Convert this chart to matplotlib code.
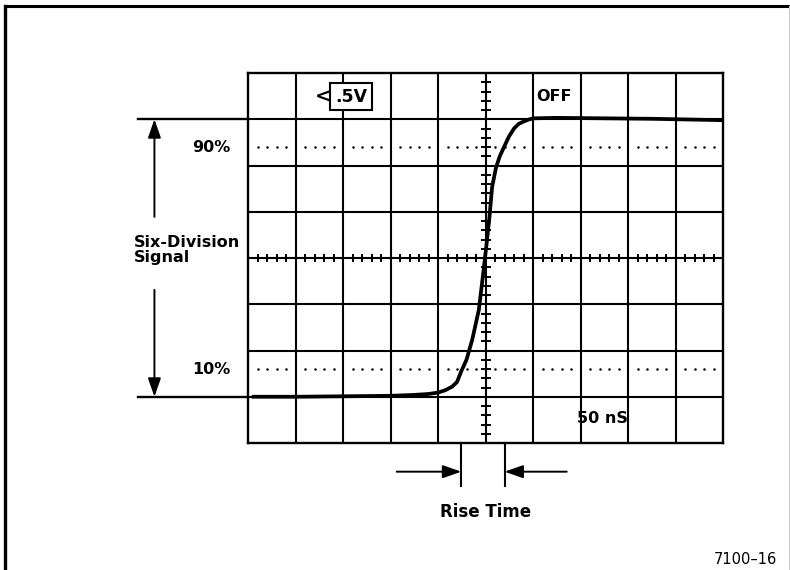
import numpy as np
import matplotlib
matplotlib.use("Agg")
import matplotlib.pyplot as plt
from matplotlib.lines import Line2D

plt.rcParams["font.family"] = ["DejaVu Sans"]

# graticule: 10 x 8 divisions, centred on 0
x_divs = np.arange(-5, 6)
y_divs = np.arange(-4, 5)
pct_levels = [2.4, -2.4]          # 90% / 10% of the six-division signal
signal_top, signal_bottom = 3, -3

# step response trace (divisions)
trace_x = [-4.92, -4.0, -3.0, -2.0, -1.5, -1.2, -1.0, -0.85, -0.7, -0.6, -0.51,
           -0.4, -0.28, -0.14, -0.04, 0.02, 0.08, 0.14, 0.22, 0.3, 0.4, 0.49,
           0.6, 0.7, 0.8, 0.9, 1.0, 1.5, 2.5, 3.5, 4.5, 5.0]
trace_y = [-3.0, -3.0, -2.99, -2.98, -2.96, -2.94, -2.91, -2.86, -2.78, -2.68, -2.45,
           -2.2, -1.77, -1.12, -0.26, 0.28, 0.85, 1.54, 1.95, 2.2, 2.42, 2.62,
           2.8, 2.9, 2.95, 2.99, 3.02, 3.03, 3.02, 3.01, 2.99, 2.98]

rise_start, rise_end = -0.51, 0.40

fig = plt.figure(figsize=(7.9, 5.7), dpi=100)
ax = fig.add_axes([248 / 790, 127 / 570, 475 / 790, 370 / 570])
ax.set_xlim(-5, 5)
ax.set_ylim(-4, 4)
ax.set_xticks([])
ax.set_yticks([])
for s in ax.spines.values():
    s.set_linewidth(1.7)

for xv in x_divs[1:-1]:
    ax.axvline(xv, color="k", lw=1.5)
for yv in y_divs[1:-1]:
    ax.axhline(yv, color="k", lw=1.5)

# minor ticks on the centre lines
minor = np.round(np.arange(-5, 5.001, 0.2), 2)
minor = minor[np.abs(minor - np.round(minor)) > 1e-6]
ax.plot(minor, np.zeros_like(minor), ls="none", marker="|", ms=6, mew=1.4, color="k")
minor_y = np.round(np.arange(-4, 4.001, 0.2), 2)
minor_y = minor_y[np.abs(minor_y - np.round(minor_y)) > 1e-6]
ax.plot(np.zeros_like(minor_y), minor_y, ls="none", marker="_", ms=7, mew=1.4, color="k")

# dotted 10% / 90% lines
for lv in pct_levels:
    ax.plot(minor, np.full_like(minor, lv), ls="none", marker=".", ms=1.6, color="k")

ax.plot(trace_x, trace_y, color="k", lw=2.7, solid_capstyle="butt")

bold = dict(fontsize=11.5, fontweight="bold", color="k")

ax.text(-2.83, 3.49, ".5V", ha="center", va="center", fontsize=12.5, fontweight="bold",
        bbox=dict(boxstyle="square,pad=0.28", fc="white", ec="k", lw=1.5), zorder=5)
ax.text(-3.24, 3.47, "<", ha="right", va="center", fontsize=14, fontweight="bold", zorder=5)
ax.text(1.07, 3.5, "OFF", ha="left", va="center", **bold)
ax.text(1.92, -3.48, "50 nS", ha="left", va="center", **bold)

# six-division signal annotation on the left
arrow = dict(arrowstyle="-|>,head_length=0.8,head_width=0.28", color="k", lw=1.4,
             mutation_scale=14, shrinkA=0, shrinkB=0)
for lv in (signal_top, signal_bottom):
    ax.plot([-7.31, -5], [lv, lv], color="k", lw=1.7, clip_on=False)
ax.annotate("", xy=(-6.97, signal_top), xytext=(-6.97, 0.89),
            arrowprops=arrow, annotation_clip=False)
ax.annotate("", xy=(-6.97, signal_bottom), xytext=(-6.97, -0.69),
            arrowprops=arrow, annotation_clip=False)
ax.text(-7.41, 0.17, "Six-Division\nSignal", ha="left", va="center",
        linespacing=1.0, clip_on=False, **bold)
ax.text(-5.37, pct_levels[0], "90%", ha="right", va="center", **bold)
ax.text(-5.37, pct_levels[1], "10%", ha="right", va="center", **bold)

# rise time markers
for xv in (rise_start, rise_end):
    ax.plot([xv, xv], [-4, -4.94], color="k", lw=1.5, clip_on=False)
ax.annotate("", xy=(rise_start, -4.62), xytext=(-1.87, -4.62),
            arrowprops=arrow, annotation_clip=False)
ax.annotate("", xy=(rise_end, -4.62), xytext=(1.71, -4.62),
            arrowprops=arrow, annotation_clip=False)
ax.text(0, -5.5, "Rise Time", ha="center", va="center", fontsize=12,
        fontweight="bold")

fig.text(777 / 790, 11 / 570, "7100\u201316", ha="right", va="center", fontsize=10.5)

# page frame (cropped scan)
fig.add_artist(Line2D([5 / 790, 5 / 790], [0, 1 - 6 / 570], color="k", lw=2.4))
fig.add_artist(Line2D([5 / 790, 1], [1 - 6 / 570, 1 - 6 / 570], color="k", lw=2.2))
fig.add_artist(Line2D([789 / 790, 789 / 790], [0, 1 - 6 / 570], color="0.8", lw=0.8))

fig.savefig("out.png", dpi=100)
